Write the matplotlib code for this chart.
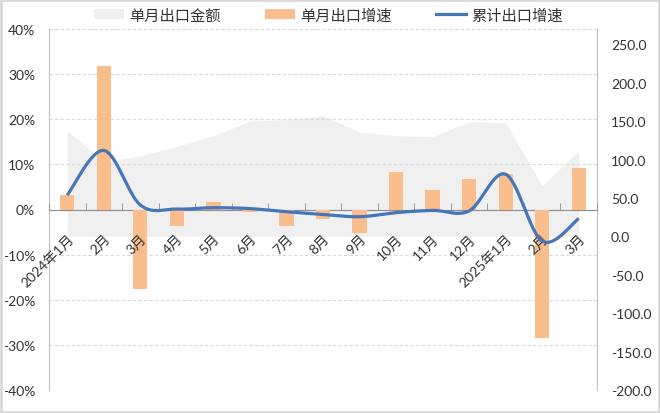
import numpy as np
import matplotlib
matplotlib.use('Agg')
import matplotlib.pyplot as plt
import matplotlib.transforms as mtransforms
from matplotlib.patches import Rectangle, Patch
from matplotlib.lines import Line2D

# ---------------- data ----------------
categories = ['2024年1月', '2月', '3月', '4月', '5月', '6月', '7月', '8月', '9月',
              '10月', '11月', '12月', '2025年1月', '2月', '3月']
export_value = [138, 97, 105, 117, 131, 150, 152, 157, 136, 131, 130, 149, 148, 66, 112]
monthly_growth = [3.2, 31.9, -17.7, -3.7, 1.7, -0.5, -3.6, -2.0, -5.1, 8.2, 4.3, 6.7, 7.8, -28.4, 9.3]
cumulative_growth = [3.2, 13.1, 1.0, 0.1, 0.4, 0.2, -0.5, -1.1, -1.6, -0.7, -0.2, -0.3, 7.8, -7.0, -2.0]
left_ticks = [-40, -30, -20, -10, 0, 10, 20, 30, 40]
right_ticks = [-200, -150, -100, -50, 0, 50, 100, 150, 200, 250]
legend_labels = ['单月出口金额', '单月出口增速', '累计出口增速']

# ---------------- style ----------------
AREA = '#F0F0F0'
ORANGE = '#F9BE8C'
BLUE = '#4675B8'
GRID = '#D9D9D9'
TXT = '#333333'
FONT = ['Lato', 'Noto Sans CJK SC', 'DejaVu Sans']
plt.rcParams['font.family'] = FONT


def smooth(xs, ys, n=40):
    """Excel-like smoothed line (Catmull-Rom via cubic Bezier)."""
    xs = np.asarray(xs, float)
    ys = np.asarray(ys, float)
    P = np.column_stack([xs, ys])
    out = []
    for i in range(len(P) - 1):
        p0 = P[i - 1] if i > 0 else P[i]
        p1 = P[i]
        p2 = P[i + 1]
        p3 = P[i + 2] if i + 2 < len(P) else P[i + 1]
        c1 = p1 + (p2 - p0) / 6.0
        c2 = p2 - (p3 - p1) / 6.0
        t = np.linspace(0, 1, n)[:, None]
        seg = ((1 - t) ** 3) * p1 + 3 * ((1 - t) ** 2) * t * c1 + 3 * (1 - t) * t ** 2 * c2 + t ** 3 * p2
        out.append(seg if i == 0 else seg[1:])
    arr = np.vstack(out)
    return arr[:, 0], arr[:, 1]


fig = plt.figure(figsize=(6.6, 4.14), dpi=100)
ax = fig.add_axes([49 / 660, 23 / 414, (597 - 49) / 660, (391 - 30) / 414])
ax2 = ax.twinx()
ax.set_zorder(ax2.get_zorder() + 1)
ax.patch.set_visible(False)

x = np.arange(len(categories))

# area on right axis
ax2.fill_between(x, 0, export_value, color=AREA, linewidth=0, zorder=1)
ax2.set_ylim(-200, 270)
ax2.set_yticks(right_ticks)
ax2.set_yticklabels([f'{v:.1f}' for v in right_ticks])
ax2.tick_params(axis='y', length=0, pad=10, labelsize=10, labelcolor=TXT)

# bars and line on left axis
ax.bar(x, monthly_growth, width=0.39, color=ORANGE, zorder=3)
sx, sy = smooth(x, cumulative_growth)
ax.plot(sx, sy, color=BLUE, lw=2.3, zorder=4, solid_capstyle='butt')

ax.set_xlim(-0.5, len(categories) - 0.5)
ax2.set_xlim(-0.5, len(categories) - 0.5)
ax.set_ylim(-40, 40)
ax.set_yticks(left_ticks)
ax.set_yticklabels([f'{v}%' for v in left_ticks])
ax.tick_params(axis='y', length=0, pad=10, labelsize=10, labelcolor=TXT)
ax.yaxis.grid(True, color=GRID, linestyle=(0, (3, 2)), linewidth=0.8)
ax.set_axisbelow(False)
ax.yaxis.set_zorder(0.5)

# x axis at zero
ax.spines['bottom'].set_position(('data', 0))
ax.spines['bottom'].set_color('#8C8C8C')
ax.spines['bottom'].set_zorder(2.5)
ax.spines['top'].set_visible(False)
ax.spines['left'].set_color('#BFBFBF')
ax.spines['right'].set_visible(False)
for s in ['top', 'bottom', 'left']:
    ax2.spines[s].set_visible(False)
ax2.spines['right'].set_color('#BFBFBF')

ax.set_xticks(x)
ax.set_xticklabels(categories, rotation=45, ha='right', va='center',
                   rotation_mode='anchor', fontsize=10, color=TXT)
ax.set_xticks(np.arange(-0.5, len(categories), 1.0), minor=True)
ax.tick_params(axis='x', which='major', length=0, pad=19)
ax.tick_params(axis='x', which='minor', length=5, direction='in', color='#8C8C8C')
ax.xaxis.set_zorder(3.5)
offset = mtransforms.ScaledTranslation(3 / 72, 0, fig.dpi_scale_trans)
for lbl in ax.get_xticklabels():
    lbl.set_transform(lbl.get_transform() + offset)

# legend
handles = [Patch(facecolor=AREA, edgecolor='none'),
           Patch(facecolor=ORANGE, edgecolor='none'),
           Line2D([0], [0], color=BLUE, lw=2.3)]
leg = fig.legend(handles, legend_labels, loc='center', bbox_to_anchor=(0.497, 1 - 16 / 414),
                 ncol=3, frameon=False, handlelength=2.0, handleheight=0.55,
                 handletextpad=0.3, columnspacing=2.9, prop={'family': ['Noto Sans CJK SC'], 'size': 11})
for t in leg.get_texts():
    t.set_color(TXT)

# outer border
fig.patches.append(Rectangle((0.001, 0.002), 0.997, 0.996, transform=fig.transFigure,
                             fill=False, edgecolor='#D9D9D9', linewidth=2))

fig.savefig('out.png', dpi=100)
